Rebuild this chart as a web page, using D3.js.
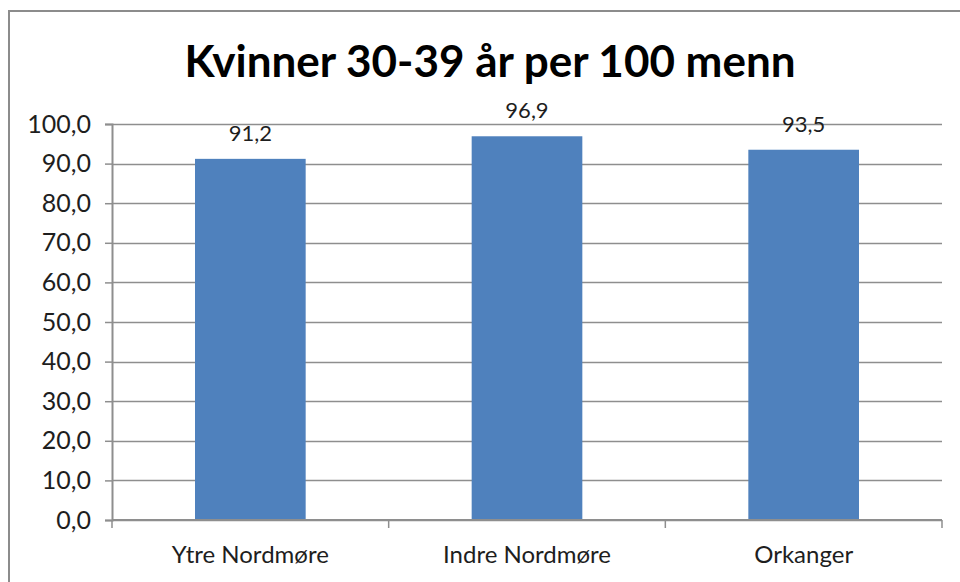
<!DOCTYPE html>
<html>
<head>
<meta charset="utf-8">
<script src="https://cdn.jsdelivr.net/npm/d3@7"></script>
<style>
  body { margin: 0; background: #fff; }
  svg text { font-family: Lato, "Open Sans", sans-serif; fill: #1e1e1e; }
</style>
</head>
<body>
<div id="container"></div>
<script>
// data
var categories = ["Ytre Nordmøre", "Indre Nordmøre", "Orkanger"];
var values = [91.2, 96.9, 93.5];
var yTicks = [0, 10, 20, 30, 40, 50, 60, 70, 80, 90, 100];
var title = "Kvinner 30-39 år per 100 menn";

// width and height
var width = 960;
var height = 582;
var margin = {top: 124, right: 18, bottom: 62, left: 112};
var plotW = width - margin.left - margin.right;
var plotH = height - margin.top - margin.bottom;

var fmt = function(d) { return d3.format(".1f")(d).replace(".", ","); };

var svg = d3.select("#container")
            .append("svg")
            .attr("width", width)
            .attr("height", height);

// chart border (top and left visible, rest cropped)
svg.append("rect")
   .attr("x", 9)
   .attr("y", 11)
   .attr("width", 980)
   .attr("height", 600)
   .attr("fill", "none")
   .attr("stroke", "#8c8c8c")
   .attr("stroke-width", 2);

// title
svg.append("text")
   .attr("x", 490)
   .attr("y", 77)
   .attr("text-anchor", "middle")
   .style("font-size", "44px")
   .style("font-weight", "bold")
   .style("fill", "#000")
   .text(title);

var g = svg.append("g")
           .attr("transform", "translate(" + margin.left + "," + margin.top + ")");

// scales
var x = d3.scaleBand()
          .domain(categories)
          .range([0, plotW])
          .paddingInner(0.6)
          .paddingOuter(0.3);
var y = d3.scaleLinear()
          .domain([0, 100])
          .range([plotH, 0]);

// gridlines
g.append("g")
 .selectAll("line")
 .data(yTicks)
 .enter().append("line")
 .attr("x1", 0)
 .attr("x2", plotW)
 .attr("y1", function(d) { return Math.round(y(d)) + 0.5; })
 .attr("y2", function(d) { return Math.round(y(d)) + 0.5; })
 .attr("stroke", "#8e8e8e")
 .attr("stroke-width", 1.5);

// bars
g.selectAll(".bar")
 .data(values)
 .enter().append("rect")
 .attr("class", "bar")
 .attr("x", function(d, i) { return x(categories[i]); })
 .attr("width", x.bandwidth())
 .attr("y", function(d) { return y(d); })
 .attr("height", function(d) { return plotH - y(d); })
 .attr("fill", "#4f81bd");

// value labels
g.selectAll(".label")
 .data(values)
 .enter().append("text")
 .attr("class", "label")
 .attr("x", function(d, i) { return x(categories[i]) + x.bandwidth() / 2; })
 .attr("y", function(d) { return y(d) - 18; })
 .attr("text-anchor", "middle")
 .style("font-size", "22px")
 .text(function(d) { return fmt(d); });

// y axis
var yAxis = g.append("g")
             .call(d3.axisLeft(y).tickValues(yTicks).tickFormat(fmt).tickSize(7).tickPadding(14));
yAxis.selectAll("text").style("font-size", "25px").style("fill", "#1e1e1e");
yAxis.selectAll("line").attr("stroke", "#8e8e8e").attr("stroke-width", 1.5);
yAxis.select(".domain").attr("stroke", "#8e8e8e").attr("stroke-width", 2);

// x axis, ticks at category boundaries
var step = x.step();
var bounds = d3.range(categories.length + 1).map(function(i) { return i * step; });
var xAxis = g.append("g")
             .attr("transform", "translate(0," + plotH + ")");
xAxis.append("line")
     .attr("x1", 0).attr("x2", plotW)
     .attr("stroke", "#8e8e8e").attr("stroke-width", 2);
xAxis.selectAll(".tick")
     .data(bounds)
     .enter().append("line")
     .attr("x1", function(d) { return d; })
     .attr("x2", function(d) { return d; })
     .attr("y1", 0).attr("y2", 8)
     .attr("stroke", "#8e8e8e").attr("stroke-width", 1.5);
xAxis.selectAll(".cat")
     .data(categories)
     .enter().append("text")
     .attr("class", "cat")
     .attr("x", function(d) { return x(d) + x.bandwidth() / 2; })
     .attr("y", 43)
     .attr("text-anchor", "middle")
     .style("font-size", "24px")
     .text(function(d) { return d; });
</script>
</body>
</html>
